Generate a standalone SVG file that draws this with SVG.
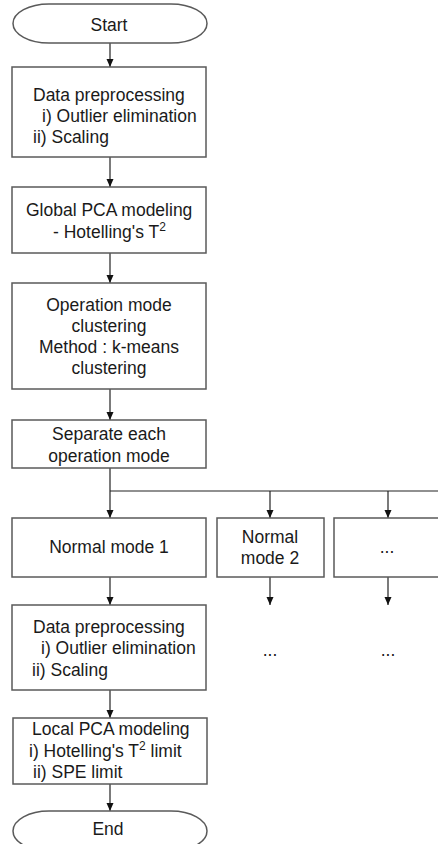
<svg xmlns="http://www.w3.org/2000/svg" width="438" height="844" viewBox="0 0 438 844">
<style>
.box{fill:#fff;stroke:#5a5a5a;stroke-width:1.5}
.t{font-family:"Liberation Sans",Arial,sans-serif;font-size:17.5px;fill:#1a1a1a}
.m{text-anchor:middle}
.c{fill:none;stroke:#222;stroke-width:1.2}
</style>
<defs>
<marker id="ah" viewBox="0 0 8 8" refX="8" refY="4" markerWidth="8" markerHeight="8" markerUnits="userSpaceOnUse" orient="auto">
<path d="M0,0.5 L8,4 L0,7.5 Z" fill="#111"/>
</marker>
</defs>
<rect width="438" height="844" fill="#fff"/>
<g id="connectors">
<line class="c" x1="110" y1="43" x2="110" y2="67" marker-end="url(#ah)"/>
<line class="c" x1="110" y1="157" x2="110" y2="187" marker-end="url(#ah)"/>
<line class="c" x1="110" y1="253" x2="110" y2="283" marker-end="url(#ah)"/>
<line class="c" x1="110" y1="389" x2="110" y2="420" marker-end="url(#ah)"/>
<line class="c" x1="110" y1="468" x2="110" y2="518" marker-end="url(#ah)"/>
<line class="c" x1="110" y1="491" x2="440" y2="491"/>
<line class="c" x1="270" y1="491" x2="270" y2="518" marker-end="url(#ah)"/>
<line class="c" x1="388" y1="491" x2="388" y2="518" marker-end="url(#ah)"/>
<line class="c" x1="110" y1="577" x2="110" y2="605" marker-end="url(#ah)"/>
<line class="c" x1="270" y1="577" x2="270" y2="605" marker-end="url(#ah)"/>
<line class="c" x1="388" y1="577" x2="388" y2="605" marker-end="url(#ah)"/>
<line class="c" x1="110" y1="690" x2="110" y2="718" marker-end="url(#ah)"/>
<line class="c" x1="110" y1="784" x2="110" y2="811" marker-end="url(#ah)"/>
</g>
<g id="start">
<rect class="box" x="13" y="4" width="194" height="39" rx="36" ry="19.5"/>
<text class="t m" x="109" y="31">Start</text>
</g>
<g id="preprocess1">
<rect class="box" x="12" y="67" width="194" height="90"/>
<text class="t" x="33" y="101">Data preprocessing</text>
<text class="t" x="42" y="122">i) Outlier elimination</text>
<text class="t" x="33" y="143">ii) Scaling</text>
</g>
<g id="globalpca">
<rect class="box" x="12" y="187" width="194" height="66"/>
<text class="t" x="26" y="216">Global PCA modeling</text>
<text class="t" x="53" y="238">- Hotelling's T<tspan font-size="12" dy="-7">2</tspan></text>
</g>
<g id="clustering">
<rect class="box" x="12" y="283" width="194" height="106"/>
<text class="t m" x="109" y="311">Operation mode</text>
<text class="t m" x="109" y="332">clustering</text>
<text class="t m" x="109" y="353">Method : k-means</text>
<text class="t m" x="109" y="374">clustering</text>
</g>
<g id="separate">
<rect class="box" x="12" y="420" width="194" height="48"/>
<text class="t m" x="109" y="440">Separate each</text>
<text class="t m" x="109" y="462">operation mode</text>
</g>
<g id="mode1">
<rect class="box" x="12" y="518" width="194" height="59"/>
<text class="t m" x="109" y="553">Normal mode 1</text>
</g>
<g id="mode2">
<rect class="box" x="217" y="518" width="107" height="59"/>
<text class="t m" x="270" y="543">Normal</text>
<text class="t m" x="270" y="564">mode 2</text>
</g>
<g id="modeN">
<rect class="box" x="334" y="518" width="110" height="59"/>
<text class="t m" x="387" y="553">...</text>
</g>
<g id="preprocess2">
<rect class="box" x="12" y="605" width="194" height="85"/>
<text class="t" x="33" y="633">Data preprocessing</text>
<text class="t" x="41" y="654">i) Outlier elimination</text>
<text class="t" x="32" y="676">ii) Scaling</text>
</g>
<g id="dots2">
<text class="t m" x="270" y="656">...</text>
</g>
<g id="dotsN">
<text class="t m" x="388" y="656">...</text>
</g>
<g id="localpca">
<rect class="box" x="13" y="718" width="194" height="66"/>
<text class="t" x="32" y="735">Local PCA modeling</text>
<text class="t" x="29" y="757">i) Hotelling's T<tspan font-size="12" dy="-7">2</tspan><tspan dy="7"> limit</tspan></text>
<text class="t" x="33" y="778">ii) SPE limit</text>
</g>
<g id="end">
<rect class="box" x="13" y="811" width="194" height="40" rx="36" ry="20"/>
<text class="t m" x="108" y="835">End</text>
</g>
</svg>
